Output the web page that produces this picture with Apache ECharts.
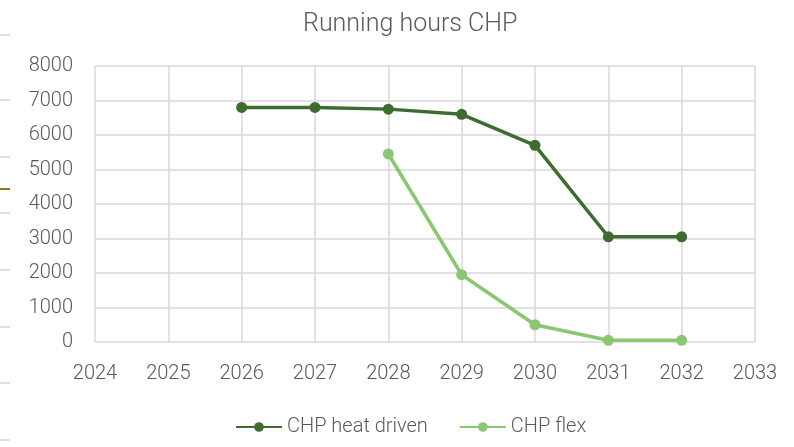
<!DOCTYPE html>
<html><head><meta charset="utf-8">
<script src="https://cdn.jsdelivr.net/npm/echarts@6/dist/echarts.min.js"></script>
<style>html,body{margin:0;padding:0;background:#fff}#c{width:794px;height:447px}</style>
</head><body><div id="c"></div>
<script>
const years = [2026, 2027, 2028, 2029, 2030, 2031, 2032];
const heatDriven = [6800, 6800, 6750, 6600, 5700, 3050, 3050];
const flexYears = [2028, 2029, 2030, 2031, 2032];
const flex = [5450, 1950, 500, 50, 50];
const yTicks = [0, 1000, 2000, 3000, 4000, 5000, 6000, 7000, 8000];

const FONT = 'Roboto, sans-serif';
const chart = echarts.init(document.getElementById('c'));
const grayMarks = [35, 100, 157, 213, 270, 327, 383, 440];
const graphics = grayMarks.map(y => ({type:'line', shape:{x1:0,y1:y,x2:10,y2:y}, style:{stroke:'#bfbfbf', lineWidth:1}}));
graphics.push({type:'line', shape:{x1:0,y1:189,x2:10,y2:189}, style:{stroke:'#8a7a2a', lineWidth:2}});
chart.setOption({
  animation:false,
  title:{text:'Running hours CHP', left:298, top:7, textStyle:{fontFamily:FONT, fontSize:25, fontWeight:300, color:'#595959'}},
  graphic: graphics,
  grid:{left:95, right:39, top:66, bottom:105},
  legend:{top:412, left:230, itemWidth:46, itemHeight:12, itemGap:31,
    textStyle:{fontFamily:FONT, fontSize:20, fontWeight:300, color:'#595959'}},
  xAxis:{type:'value', min:2024, max:2033, interval:1,
    axisLine:{show:false}, axisTick:{show:false},
    splitLine:{show:true, lineStyle:{color:'#d9d9d9', width:1.5}},
    axisLabel:{fontFamily:FONT, fontSize:20, fontWeight:300, color:'#595959', margin:22, formatter:v=>String(v)}},
  yAxis:{type:'value', min:0, max:8000, interval:1000,
    axisLine:{show:false}, axisTick:{show:false},
    splitLine:{show:true, lineStyle:{color:'#d9d9d9', width:1.5}},
    axisLabel:{fontFamily:FONT, fontSize:20, fontWeight:300, color:'#595959', margin:22,
      formatter:v=> yTicks.includes(v) ? String(v) : ''}},
  series:[
    {name:'CHP heat driven', type:'line', data: years.map((y,i)=>[y, heatDriven[i]]),
      symbol:'circle', symbolSize:11, lineStyle:{color:'#3e6b30', width:3.5}, itemStyle:{color:'#3e6b30'}},
    {name:'CHP flex', type:'line', data: flexYears.map((y,i)=>[y, flex[i]]),
      symbol:'circle', symbolSize:11, lineStyle:{color:'#8bc673', width:3.5}, itemStyle:{color:'#8bc673'}}
  ]
});
</script></body></html>
